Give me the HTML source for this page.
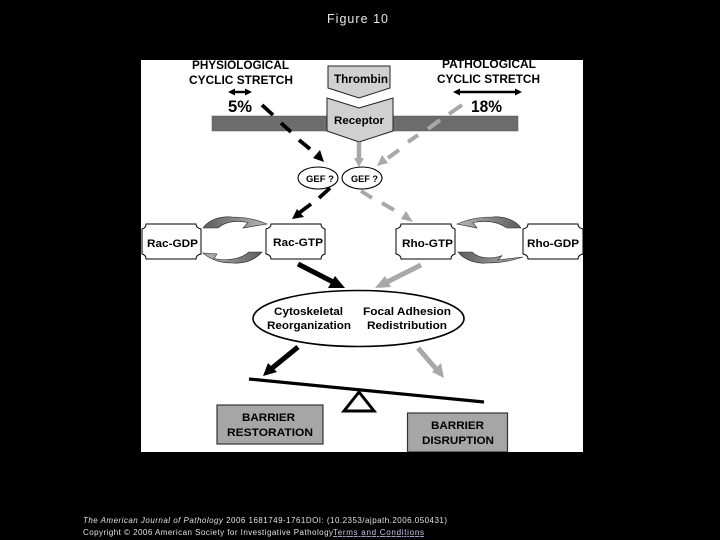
<!DOCTYPE html>
<html>
<head>
<meta charset="utf-8">
<style>
html,body{margin:0;padding:0;background:#000;width:720px;height:540px;overflow:hidden}
svg{display:block}
text{font-family:"Liberation Sans",sans-serif}
.d text{font-weight:bold;fill:#000}
</style>
</head>
<body>
<svg width="720" height="540" viewBox="0 0 720 540" xmlns="http://www.w3.org/2000/svg">
<defs>
<linearGradient id="gl" x1="0" x2="1" y1="0" y2="0"><stop offset="0" stop-color="#5c5c5c"/><stop offset="1" stop-color="#b8b8b8"/></linearGradient>
<linearGradient id="gr" x1="1" x2="0" y1="0" y2="0"><stop offset="0" stop-color="#5c5c5c"/><stop offset="1" stop-color="#b8b8b8"/></linearGradient>
<filter id="b" x="0" y="0" width="1" height="1"><feGaussianBlur stdDeviation="0.22"/></filter>
</defs>
<rect width="720" height="540" fill="#000"/>
<text x="327" y="23" font-size="12.5" fill="#e8e8e8" textLength="61">Figure 10</text>
<g class="d" filter="url(#b)">
<rect x="141" y="60" width="442" height="392" fill="#fff"/>

<rect x="212" y="116" width="306" height="15" fill="#6c6c6c" stroke="#555" stroke-width="0.5"/>

<polygon points="328,66 390,66 390,88 359,98 328,88" fill="#d0d0d0" stroke="#222" stroke-width="1"/>
<polygon points="327,98 359,108 393,98 393,131 359,142 327,131" fill="#d0d0d0" stroke="#222" stroke-width="1"/>
<text x="334" y="83" font-size="11.5" textLength="54" lengthAdjust="spacingAndGlyphs">Thrombin</text>
<text x="334" y="124" font-size="11" textLength="50" lengthAdjust="spacingAndGlyphs">Receptor</text>

<text x="192" y="69" font-size="11.5" textLength="97" lengthAdjust="spacingAndGlyphs">PHYSIOLOGICAL</text>
<text x="189" y="84" font-size="11.5" textLength="104" lengthAdjust="spacingAndGlyphs">CYCLIC STRETCH</text>
<text x="442" y="68" font-size="11.5" textLength="94" lengthAdjust="spacingAndGlyphs">PATHOLOGICAL</text>
<text x="437" y="83" font-size="11.5" textLength="103" lengthAdjust="spacingAndGlyphs">CYCLIC STRETCH</text>
<text x="228" y="112" font-size="17" textLength="24" lengthAdjust="spacingAndGlyphs">5%</text>
<text x="471" y="112" font-size="17" textLength="31" lengthAdjust="spacingAndGlyphs">18%</text>

<line x1="233" y1="92" x2="247" y2="92" stroke="#000" stroke-width="2.4"/>
<polygon points="228,92 235,88.5 235,95.5" fill="#000"/><polygon points="252,92 245,88.5 245,95.5" fill="#000"/>
<line x1="458" y1="92" x2="517" y2="92" stroke="#000" stroke-width="2.4"/>
<polygon points="453,92 460,88.5 460,95.5" fill="#000"/><polygon points="522,92 515,88.5 515,95.5" fill="#000"/>

<g stroke="#000" stroke-width="3.8" fill="none">
<line x1="262" y1="105" x2="273" y2="115"/><line x1="281" y1="123" x2="291" y2="132"/><line x1="299" y1="140" x2="310" y2="149"/>
<line x1="330" y1="188" x2="319" y2="198"/><line x1="311" y1="204" x2="299" y2="213"/>
</g>
<polygon points="324,162 313,158 320,150" fill="#000"/>
<polygon points="292,219 297,209 304,217" fill="#000"/>

<g stroke="#a8a8a8" stroke-width="4" fill="none">
<line x1="462" y1="105" x2="449" y2="114"/><line x1="440" y1="120" x2="428" y2="129"/><line x1="418" y1="135" x2="408" y2="142"/><line x1="399" y1="150" x2="388" y2="158"/>
<line x1="361" y1="191" x2="372" y2="198"/><line x1="382" y1="203" x2="394" y2="210"/>
</g>
<polygon points="377,166 382,155 388,163" fill="#a8a8a8"/>
<polygon points="413,222 401,219 406,211" fill="#a8a8a8"/>
<line x1="359" y1="142" x2="359" y2="160" stroke="#a8a8a8" stroke-width="4.5"/>
<polygon points="359,167 354,158 364,158" fill="#a8a8a8"/>

<ellipse cx="318" cy="178" rx="20" ry="11" fill="#fff" stroke="#000" stroke-width="1.1"/>
<ellipse cx="362" cy="178" rx="20" ry="11" fill="#fff" stroke="#000" stroke-width="1.1"/>
<text x="306" y="182" font-size="9.5" textLength="28" lengthAdjust="spacingAndGlyphs">GEF ?</text>
<text x="351" y="182" font-size="9.5" textLength="27" lengthAdjust="spacingAndGlyphs">GEF ?</text>

<g fill="#fff" stroke="#000" stroke-width="1">
<path d="M146,224 H196 Q196,228 201,229 V254 Q196,255 196,259 H146 Q146,255 142,254 V229 Q146,228 146,224 Z"/>
<path d="M271,224 H321 Q321,228 325,229 V254 Q321,255 321,259 H271 Q271,255 266,254 V229 Q271,228 271,224 Z"/>
<path d="M401,224 H451 Q451,228 455,229 V254 Q451,255 451,259 H401 Q401,255 396,254 V229 Q401,228 401,224 Z"/>
<path d="M528,224 H578 Q578,228 583,229 V254 Q578,255 578,259 H528 Q528,255 523,254 V229 Q528,228 528,224 Z"/>
</g>
<text x="147" y="247" font-size="11" textLength="51" lengthAdjust="spacingAndGlyphs">Rac-GDP</text>
<text x="273" y="246" font-size="11" textLength="50" lengthAdjust="spacingAndGlyphs">Rac-GTP</text>
<text x="402" y="247" font-size="11" textLength="51" lengthAdjust="spacingAndGlyphs">Rho-GTP</text>
<text x="527" y="247" font-size="11" textLength="52" lengthAdjust="spacingAndGlyphs">Rho-GDP</text>

<g stroke="#222" stroke-width="0.6">
<path d="M203,228 C208,220 220,216 232,217 C245,217 258,220 267,224 L243,228 L248,222.5 C235,220 225,222 218,228 Z" fill="url(#gl)"/>
<path d="M262,252 C255,260 245,264 232,263 C220,263 210,259 203,253 L217,254 L214,258.5 C225,261 240,260 249,252 Z" fill="url(#gr)"/>
<path d="M521,228 C516,220 504,216 492,217 C478,217 466,220 457,224 L477,228 L473,222.5 C488,220 498,222 507,228 Z" fill="url(#gr)"/>
<path d="M458,252 C464,260 476,264 487,263 C502,263 514,260 523,257 L498,260 L502,255.5 C490,260 478,258 472,252 Z" fill="url(#gl)"/>
</g>

<line x1="298" y1="264" x2="335" y2="283" stroke="#000" stroke-width="5"/>
<polygon points="345,288 328,288 335,276" fill="#000"/>
<line x1="421" y1="265" x2="387" y2="282" stroke="#a8a8a8" stroke-width="5"/>
<polygon points="375,288 385,276 391,287" fill="#a8a8a8"/>
<line x1="298" y1="347" x2="271" y2="369" stroke="#000" stroke-width="5"/>
<polygon points="263,376 268,363 277,372" fill="#000"/>
<line x1="418" y1="348" x2="437" y2="370" stroke="#a8a8a8" stroke-width="5"/>
<polygon points="444,378 432,372 441,363" fill="#a8a8a8"/>

<ellipse cx="358.5" cy="318.5" rx="105.5" ry="28" fill="#fff" stroke="#000" stroke-width="1.6"/>
<text x="274" y="315" font-size="11" textLength="69" lengthAdjust="spacingAndGlyphs">Cytoskeletal</text>
<text x="267" y="329" font-size="11" textLength="84" lengthAdjust="spacingAndGlyphs">Reorganization</text>
<text x="363" y="315" font-size="11" textLength="88" lengthAdjust="spacingAndGlyphs">Focal Adhesion</text>
<text x="367" y="329" font-size="11" textLength="80" lengthAdjust="spacingAndGlyphs">Redistribution</text>

<line x1="249" y1="379" x2="484" y2="402" stroke="#000" stroke-width="3.2"/>
<polygon points="359,392 344,411 374,411" fill="#fff" stroke="#000" stroke-width="3"/>

<rect x="217" y="405" width="106" height="39" fill="#a6a6a6" stroke="#333" stroke-width="1.2"/>
<rect x="407.5" y="413" width="100" height="39" fill="#a6a6a6" stroke="#333" stroke-width="1.2"/>
<text x="242" y="421" font-size="11" textLength="53" lengthAdjust="spacingAndGlyphs">BARRIER</text>
<text x="227" y="436" font-size="11" textLength="86" lengthAdjust="spacingAndGlyphs">RESTORATION</text>
<text x="431" y="429" font-size="11" textLength="53" lengthAdjust="spacingAndGlyphs">BARRIER</text>
<text x="422" y="444" font-size="11" textLength="72" lengthAdjust="spacingAndGlyphs">DISRUPTION</text>
</g>

<g font-size="8" fill="#e0e0e0">
<text x="83" y="523" textLength="364"><tspan font-style="italic">The American Journal of Pathology</tspan> 2006 1681749-1761DOI: (10.2353/ajpath.2006.050431)</text>
<text x="83" y="535" textLength="250">Copyright © 2006 American Society for Investigative Pathology</text>
<text x="333" y="535" textLength="91" fill="#c8c8f0" text-decoration="underline">Terms and Conditions</text>
</g>
</svg>
</body>
</html>
